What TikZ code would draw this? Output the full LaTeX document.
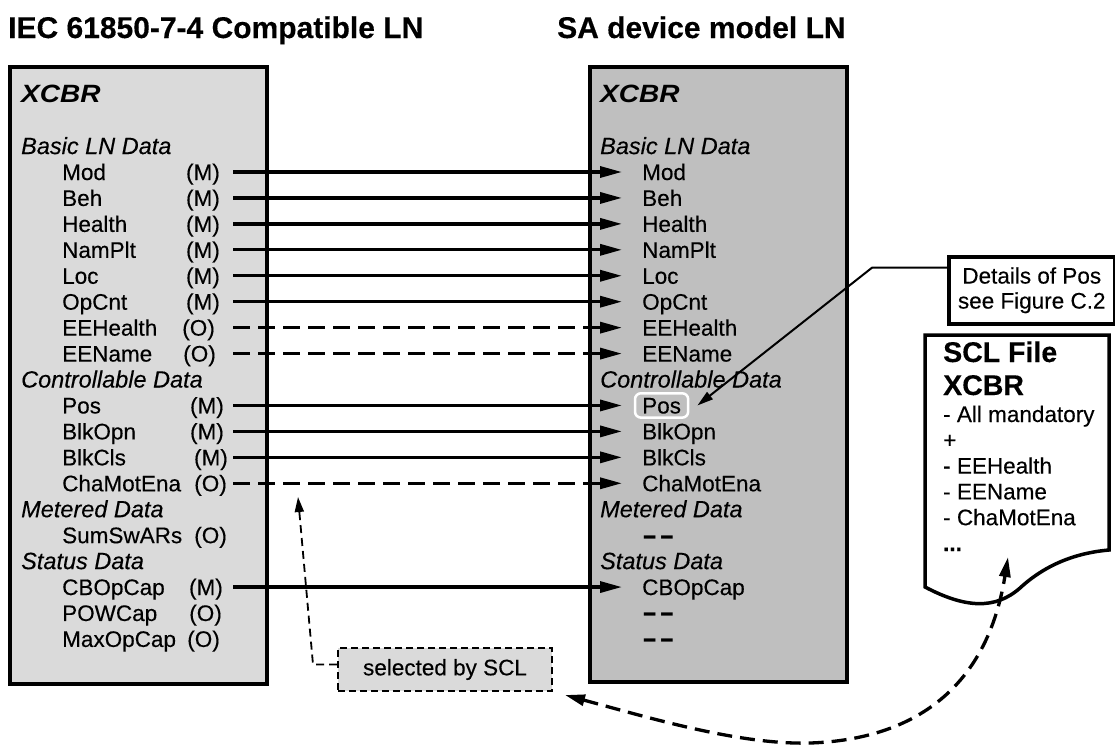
\documentclass[tikz,border=0pt]{standalone}
\usepackage{fontspec}
\setmainfont{Liberation Sans}[FakeBold=0.3]
\newfontfamily\xcbrfont{Liberation Sans}[FakeStretch=1.12]
\newfontfamily\widefont{Liberation Sans}[FakeStretch=1.7]
\usetikzlibrary{arrows.meta,calc,fit}
\definecolor{lgray}{gray}{0.855}
\definecolor{dgray}{gray}{0.75}
\newcommand{\fs}{\fontsize{22.5}{25.9}\selectfont}
\tikzset{
  lnbox/.style={draw, line width=3.5pt, anchor=north west, inner sep=0pt},
  item/.style={inner sep=0pt, text height=19pt, text depth=3pt, anchor=base west, font=\fs},
  grp/.style={inner sep=0pt, anchor=base west, font=\fontsize{23.5}{26}\selectfont\itshape},
  ttl/.style={inner sep=0pt, anchor=base west, font=\bfseries\fontsize{30}{32}\selectfont},
  xcbr/.style={inner sep=0pt, anchor=base west, font=\xcbrfont\bfseries\itshape\fontsize{25}{27}\selectfont},
  solidarrow/.style={line width=3.3pt, -{Triangle[length=22pt,width=11pt]}, shorten >=20pt},
  dasharrow/.style={solidarrow, dash pattern=on 17pt off 8pt},
  thindash/.style={line width=1.8pt, dash pattern=on 8pt off 5pt, -{Triangle[length=15pt,width=9pt]}},
  bigdash/.style={line width=3.3pt, dash pattern=on 15pt off 8pt, {Triangle[length=20pt,width=11pt]}-{Triangle[length=20pt,width=11pt]}},
  callout/.style={line width=2pt, -{Triangle[length=16pt,width=9pt]}},
  dashes/.style={inner sep=0pt, anchor=base west, font=\widefont\bfseries\fontsize{27}{30}\selectfont}
}
\begin{document}
\begin{tikzpicture}[x=1pt,y=-1pt]
\useasboundingbox (0,0) rectangle (1115,744);

% titles
\node[ttl] (t1) at (8,38) {IEC 61850-7-4 Compatible LN};
\node[ttl] (t2) at (557,38) {SA device model LN};

% boxes
\node[lnbox, fill=lgray, minimum width=257pt, minimum height=617pt] (lbox) at (8,65) {};
\node[lnbox, fill=dgray, minimum width=257pt, minimum height=615pt] (rbox) at (588,65) {};

\node[xcbr] (lx) at (21,102) {XCBR};
\node[xcbr] (rx) at (600,102) {XCBR};

% group headers
\foreach \g/\k in {Basic LN Data/-1, Controllable Data/8, Metered Data/13, Status Data/15}{
  \node[grp] (lg\k) at (21,{180+25.94*\k}) {\g};
  \node[grp] (rg\k) at (600,{180+25.94*\k}) {\g};
}

% left items
\foreach \n/\k/\m/\mx in {Mod/0/M/220, Beh/1/M/220, Health/2/M/220, NamPlt/3/M/220, Loc/4/M/220, OpCnt/5/M/220,
  EEHealth/6/O/215, EEName/7/O/216, Pos/9/M/224, BlkOpn/10/M/224, BlkCls/11/M/228, ChaMotEna/12/O/227,
  SumSwARs/14/O/227, CBOpCap/16/M/223, POWCap/17/O/222, MaxOpCap/18/O/220}{
  \node[item] (l\n) at (62,{180+25.94*\k}) {\n};
  \node[item, anchor=base east] (m\n) at (\mx,{180+25.94*\k}) {(\m)};
}

% right items
\foreach \n/\k in {Mod/0, Beh/1, Health/2, NamPlt/3, Loc/4, OpCnt/5, EEHealth/6, EEName/7,
  Pos/9, BlkOpn/10, BlkCls/11, ChaMotEna/12, CBOpCap/16}{
  \node[item] (r\n) at (642,{180+25.94*\k}) {\n};
}
\node[dashes] (rd14) at (642,{181+25.94*14}) {-\hspace{2pt}-};
\node[dashes] (rd17) at (642,{181+25.94*17}) {-\hspace{2pt}-};
\node[dashes] (rd18) at (642,{181+25.94*18}) {-\hspace{2pt}-};

\node[fit=(rPos), inner xsep=7pt, inner ysep=1pt, draw=white, line width=2.5pt, rounded corners=6pt] (poshl) {};

% connectors
\coordinate (xs) at (233,0);
\foreach \n in {Mod, Beh, Health, NamPlt, Loc, OpCnt, Pos, BlkOpn, BlkCls, CBOpCap}{
  \draw[solidarrow] (m\n.east -| xs) -- (r\n.west);
}
\foreach \n in {EEHealth, EEName, ChaMotEna}{
  \draw[dasharrow] (m\n.east -| xs) -- (r\n.west);
}

% details callout
\node[draw, line width=3.5pt, fill=white, align=center, minimum width=166pt, minimum height=67pt,
  anchor=north west, inner sep=0pt, font=\fontsize{22.5}{25}\selectfont] (det) at (947,255) {Details of Pos\\see Figure C.2};
\coordinate (detA) at ($(det.north west)!0.18!(det.south west)$);
\draw[callout] (detA) -- ++(-75,0) -- ($(poshl.east)+(8,0)$);

% SCL file document
\draw[line width=3.5pt, fill=white] (925,335) -- (1109,335) -- (1109,550)
  .. controls (1075,553) and (1045,565) .. (1020,588)
  .. controls (995,610) and (965,608) .. (925,587) -- cycle;
\node[inner sep=0pt, anchor=base west, font=\bfseries\fontsize{28.5}{30}\selectfont] (scl1) at (943,362) {SCL File};
\node[inner sep=0pt, anchor=base west, font=\bfseries\fontsize{28.5}{30}\selectfont] (scl2) at (943,395) {XCBR};
\foreach \t/\k in {- All mandatory/0, +/1, - EEHealth/2, - EEName/3, - ChaMotEna/4}{
  \node[inner sep=0pt, anchor=base west, font=\fs] (scll\k) at (943,{422+25.8*\k}) {\t};
}
\node[inner sep=0pt, anchor=base west, font=\fs\bfseries] (scll5) at (943,{422+25.8*5}) {...};
\coordinate (sclin) at (1008,557);

% selected by SCL
\node[draw, fill=lgray, line width=2pt, dash pattern=on 7pt off 4pt, minimum width=214pt, minimum height=43pt,
  anchor=north west, inner sep=0pt, font=\fs] (sel) at (337,647) {selected by SCL};
\coordinate (selT) at (298,497);
\draw[thindash] ($(sel.west)+(0,-5)$) -- ++(-24,0) -- (selT);

% SCL <-> selected curve
\coordinate (selC) at ($(sel.south east)+(12,3)$);
\draw[bigdash] (selC) .. controls (650,718) and (740,745) .. (810,743)
  .. controls (900,740) and (985,700) .. (sclin);
\end{tikzpicture}
\end{document}
